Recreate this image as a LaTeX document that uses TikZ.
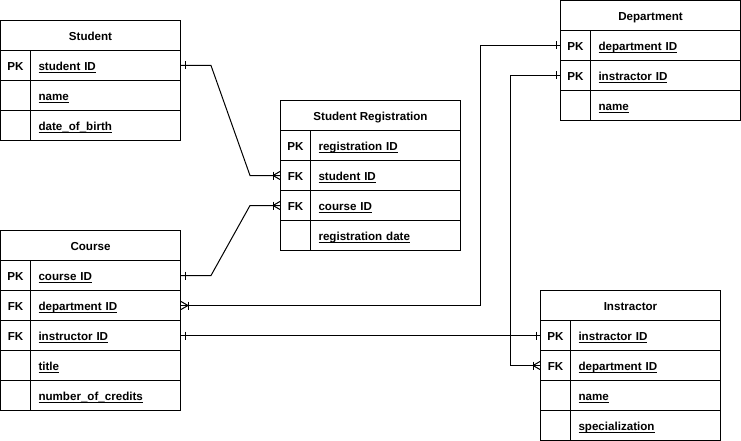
\documentclass[tikz,border=0pt]{standalone}
\usepackage{fontspec}
\setmainfont{Liberation Sans}
\begin{document}
\begin{tikzpicture}[x=1pt,y=-1pt,line width=1pt,
  every node/.style={font=\fontsize{11.6}{14}\selectfont\bfseries,text height=10pt,text depth=0pt},
  hdr/.style={draw,minimum width=180pt,minimum height=30pt,inner sep=0pt,anchor=north west},
  keyc/.style={draw,minimum width=30pt,minimum height=30pt,inner sep=0pt,anchor=north west},
  fld/.style={draw,minimum height=30pt,inner xsep=8pt,inner ysep=0pt,text width=134pt,align=left,anchor=north west}]
\useasboundingbox (0,0) rectangle (741,441);
\newcommand{\erow}[5]{%
  \node[keyc] (#1k) at (#2,#3) {#4};
  \node[fld] (#1) at (#2+30,#3) {\underline{\smash{#5}}};}
\newcommand{\onebar}[2]{\draw ([xshift=#2,yshift=4pt]#1) -- ([xshift=#2,yshift=-4pt]#1);}
\newcommand{\crow}[2]{%
  \draw ([yshift=4pt]#1) -- ([xshift=#2*7pt]#1) -- ([yshift=-4pt]#1);
  \draw ([xshift=#2*7pt,yshift=4pt]#1) -- ([xshift=#2*7pt,yshift=-4pt]#1);}
% Student
\node[hdr] (st) at (0,20) {Student};
\erow{st-sid}{0}{50}{PK}{student ID}
\erow{st-nam}{0}{80}{}{name}
\erow{st-dob}{0}{110}{}{date\_of\_birth}
% Student Registration
\node[hdr] (sr) at (280,100) {Student Registration};
\erow{sr-rid}{280}{130}{PK}{registration ID}
\erow{sr-sid}{280}{160}{FK}{student ID}
\erow{sr-cid}{280}{190}{FK}{course ID}
\erow{sr-dat}{280}{220}{}{registration date}
% Course
\node[hdr] (co) at (0,230) {Course};
\erow{co-cid}{0}{260}{PK}{course ID}
\erow{co-dep}{0}{290}{FK}{department ID}
\erow{co-iid}{0}{320}{FK}{instructor ID}
\erow{co-tit}{0}{350}{}{title}
\erow{co-num}{0}{380}{}{number\_of\_credits}
% Department
\node[hdr] (dp) at (560,0) {Department};
\erow{dp-did}{560}{30}{PK}{department ID}
\erow{dp-iid}{560}{60}{PK}{instractor ID}
\erow{dp-nam}{560}{90}{}{name}
% Instractor
\node[hdr] (in) at (540,290) {Instractor};
\erow{in-iid}{540}{320}{PK}{instractor ID}
\erow{in-did}{540}{350}{FK}{department ID}
\erow{in-nam}{540}{380}{}{name}
\erow{in-spe}{540}{410}{}{specialization}
% connectors
\draw (st-sid.east) -- ++(30,0) -- ([xshift=-30pt]sr-sidk.west) -- (sr-sidk.west);
\onebar{st-sid.east}{4pt}
\crow{sr-sidk.west}{-1}
\draw (co-cid.east) -- ++(30,0) -- ([xshift=-30pt]sr-cidk.west) -- (sr-cidk.west);
\onebar{co-cid.east}{4pt}
\crow{sr-cidk.west}{-1}
\draw (co-dep.east) -| ([xshift=-80pt]dp-didk.west) -- (dp-didk.west);
\crow{co-dep.east}{1}
\onebar{dp-didk.west}{-4pt}
\draw (co-iid.east) -- (in-iidk.west);
\onebar{co-iid.east}{4pt}
\onebar{in-iidk.west}{-4pt}
\draw (dp-iidk.west) -- ++(-50,0) |- (in-didk.west);
\onebar{dp-iidk.west}{-4pt}
\crow{in-didk.west}{-1}
\end{tikzpicture}
\end{document}
